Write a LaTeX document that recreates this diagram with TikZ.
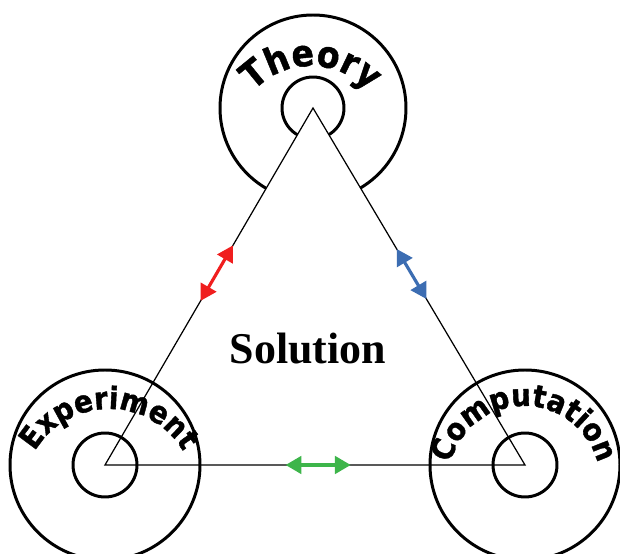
\documentclass[tikz,border=0pt]{standalone}
\usepackage{fontspec}
\setmainfont{Liberation Serif}
\newfontfamily\arcfont{DejaVu Sans Condensed Bold}[FakeBold=1.2]
\usetikzlibrary{calc,arrows.meta,decorations.text}
\definecolor{ArrRed}{HTML}{F01E1E}
\definecolor{ArrBlue}{HTML}{3C6DB2}
\definecolor{ArrGreen}{HTML}{3DB54A}
\newcommand\theofont{\arcfont\fontsize{21}{21}\selectfont}
\newcommand\ringfont{\arcfont\fontsize{17.5}{17.5}\selectfont}

\begin{document}
\begin{tikzpicture}[x=1cm,y=1cm,
  ring/.style={line width=1.7pt},
  edge/.style={line width=0.7pt},
  biarrow/.style={line width=1.8pt,{Triangle[length=9pt,width=10pt]}-{Triangle[length=9pt,width=10pt]}},
  arctext/.style={decorate,decoration={text along path,text align=center,text={#1}}}]
\path[use as bounding box] (0,0) rectangle (12.40,11.08);
\coordinate (theo) at (6.26,8.92);
\coordinate (expt) at (2.10,1.78);
\coordinate (comp) at (10.50,1.78);
% theory ring sits behind the triangle
\draw[ring] (theo) circle (1.86);
\draw[ring] (theo) circle (0.62);
\path[arctext=|\theofont|Theory] (6.22,8.20) ++(160:1.56) arc[start angle=160,end angle=20,radius=1.56];
\filldraw[fill=white,edge] (theo) -- (expt) -- (comp) -- cycle;
% the two lower rings
\draw[ring] (expt) circle (1.90);
\draw[ring] (expt) circle (0.64);
\path[arctext=|\ringfont|Experiment] (2.18,1.18) ++(170:1.72) arc[start angle=170,end angle=10,radius=1.72];
\draw[ring] (comp) circle (1.90);
\draw[ring] (comp) circle (0.64);
\path[arctext=|\ringfont|Computation] (10.48,1.44) ++(175:1.52) arc[start angle=175,end angle=5,radius=1.52];
\node[font=\bfseries\fontsize{25}{25}\selectfont] (sol) at (6.16,4.10) {Solution};
% two-way links
\draw[biarrow,ArrRed] ($(expt)!0.46!(theo)$) -- ($(expt)!0.615!(theo)$);
\draw[biarrow,ArrBlue] ($(comp)!0.605!(theo)$) -- ($(comp)!0.465!(theo)$);
\draw[biarrow,ArrGreen] ($(expt)!0.43!(comp)$) -- ($(expt)!0.585!(comp)$);
\end{tikzpicture}
\end{document}
